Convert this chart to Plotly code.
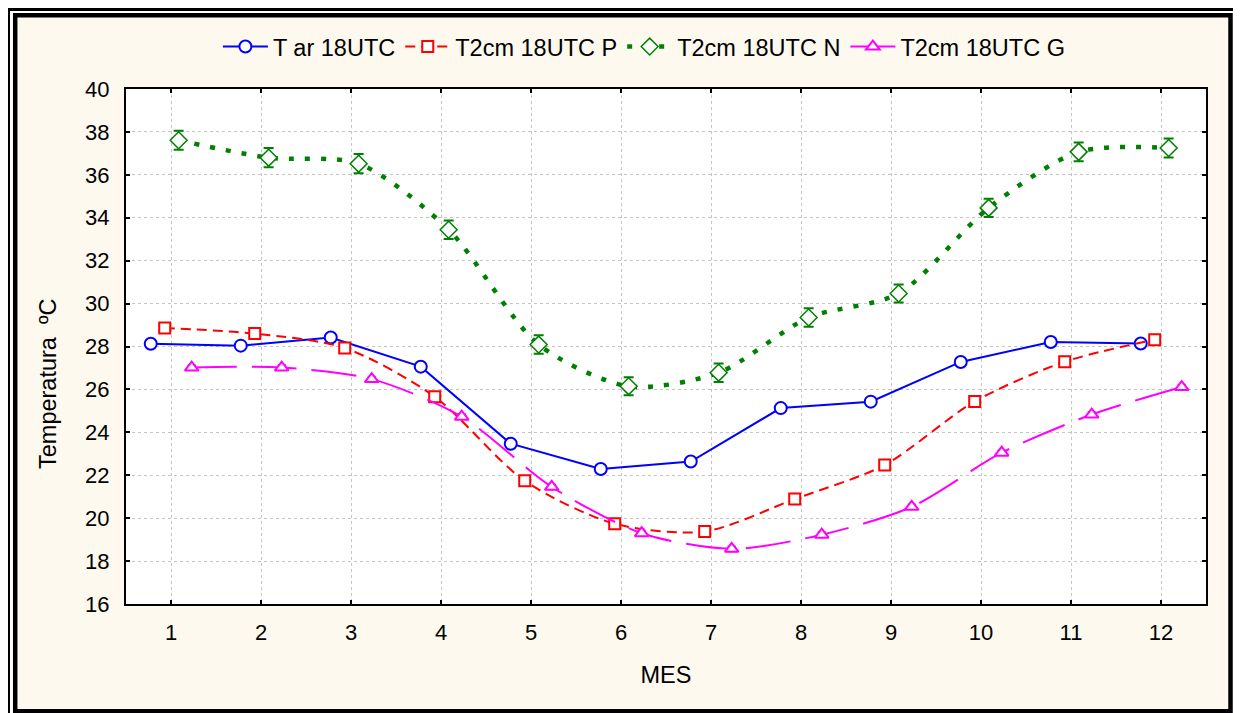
import numpy as np
import plotly.graph_objects as go

# ---------------- data ----------------
months = list(range(1, 13))
tick_labels = [str(m) for m in months]

t_ar = [28.13, 28.04, 28.42, 27.06, 23.47, 22.29, 22.64, 25.13, 25.43, 27.28, 28.21, 28.14]
t_ar_err = [0.15] * 12

t2cm_p = [28.86, 28.60, 27.93, 25.66, 21.74, 19.74, 19.38, 20.89, 22.48, 25.44, 27.29, 28.32]
t2cm_p_err = [0.12] * 12

t2cm_n = [37.61, 36.80, 36.52, 33.44, 28.09, 26.15, 26.78, 29.35, 30.47, 34.46, 37.07, 37.25]
t2cm_n_err = [0.44, 0.45, 0.45, 0.43, 0.43, 0.42, 0.43, 0.43, 0.42, 0.43, 0.44, 0.44]

t2cm_g = [27.02, 27.02, 26.48, 24.73, 21.46, 19.30, 18.57, 19.23, 20.53, 23.05, 24.83, 26.11]
t2cm_g_err = [0.12] * 12

names = ["T ar 18UTC", "T2cm 18UTC P", "T2cm 18UTC N", "T2cm 18UTC G"]
y_title = "Temperatura\u00a0 ºC"
x_title = "MES"

# ---------------- style ----------------
FONT = "Arial, Liberation Sans, sans-serif"
CREAM = "#FDF9EE"
BODY = 8                      # browser default body margin
W, H = 1241 - BODY, 713 - BODY
# screen-space plot area: x 126..1206, y 89..604
L, T = 126 - BODY, 89 - BODY
R, B = W - (1206 - BODY), H - (604 - BODY)
PW, PH = W - L - R, H - T - B

# horizontal offsets of each series around the month position (style)
off = {"T": -0.225, "P": -0.07, "N": 0.085, "G": 0.23}
mx = np.array(months, dtype=float)

fig = go.Figure()

fig.add_trace(go.Scatter(
    x=mx + off["T"], y=t_ar, name=names[0], mode="lines+markers",
    line=dict(color="#0000FF", width=2),
    marker=dict(symbol="circle", size=12, color="white", line=dict(color="#0000FF", width=2)),
    error_y=dict(type="data", array=t_ar_err, color="#0000FF", thickness=2, width=5),
))
fig.add_trace(go.Scatter(
    x=mx + off["P"], y=t2cm_p, name=names[1], mode="lines+markers",
    line=dict(color="#FF0000", width=2, dash="10px,6px", shape="spline", smoothing=0.8),
    marker=dict(symbol="square", size=11, color="white", line=dict(color="#FF0000", width=2)),
    error_y=dict(type="data", array=t2cm_p_err, color="#FF0000", thickness=1.5, width=4),
))
fig.add_trace(go.Scatter(
    x=mx + off["N"], y=t2cm_n, name=names[2], mode="lines+markers",
    line=dict(color="#008000", width=4.5, dash="5px,11px", shape="spline", smoothing=0.8),
    marker=dict(symbol="diamond", size=13, color="white", line=dict(color="#008000", width=1.5)),
    error_y=dict(type="data", array=t2cm_n_err, color="#008000", thickness=2, width=5),
))
fig.add_trace(go.Scatter(
    x=mx + off["G"], y=t2cm_g, name=names[3], mode="lines+markers",
    line=dict(color="#FF00FF", width=2, dash="45px,15px", shape="spline", smoothing=0.8),
    marker=dict(symbol="triangle-up", size=12, color="white", line=dict(color="#FF00FF", width=2)),
    error_y=dict(type="data", array=t2cm_g_err, color="#FF00FF", thickness=1.5, width=4),
))

# convert screen pixel to paper coordinates
def px(xs):
    return (xs - BODY - L) / PW

def py(ys):
    return (H - B - (ys - BODY)) / PH

shapes = [
    dict(type="rect", xref="paper", yref="paper", layer="below",
         x0=px(17), x1=px(1228), y0=py(709), y1=py(17),
         fillcolor=CREAM, line=dict(width=0)),
    dict(type="rect", xref="paper", yref="paper", layer="below",
         x0=0, x1=1, y0=0, y1=1, fillcolor="white", line=dict(width=0)),
    dict(type="rect", xref="paper", yref="paper", layer="below",
         x0=px(15.2), x1=px(1230.5), y0=py(711.2), y1=py(15.2),
         fillcolor="rgba(0,0,0,0)", line=dict(color="black", width=4.5)),
    dict(type="rect", xref="paper", yref="paper", layer="below",
         x0=px(7.5), x1=px(1238.2), y0=py(717), y1=py(8.5),
         fillcolor="rgba(0,0,0,0)", line=dict(color="black", width=5)),
]

axis_common = dict(
    showline=True, linecolor="black", linewidth=2, mirror="ticks",
    ticks="inside", ticklen=4, tickwidth=2, tickcolor="black",
    showgrid=True, gridcolor="#C4C4C4", gridwidth=1, griddash="dot",
    zeroline=False, tickfont=dict(family=FONT, size=22, color="black"),
)

fig.update_layout(
    width=W, height=H,
    margin=dict(l=L, r=R, t=T, b=B, autoexpand=False),
    paper_bgcolor="white", plot_bgcolor="white",
    font=dict(family=FONT, size=22, color="black"),
    shapes=shapes,
    annotations=[dict(text=y_title, xref="paper", yref="paper", x=px(48), y=py(384),
                      xanchor="center", yanchor="middle", textangle=-90, showarrow=False,
                      font=dict(family=FONT, size=23.5, color="black"))],
    showlegend=True,
    legend=dict(orientation="h", x=0.48, xanchor="center", y=1.082, yanchor="middle",
                font=dict(family=FONT, size=23.5, color="black"),
                bgcolor="rgba(0,0,0,0)", itemwidth=45, tracegroupgap=0),
    xaxis=dict(range=[0.5, 12.5], tickmode="array", tickvals=months, ticktext=tick_labels,
               title=dict(text=x_title, font=dict(family=FONT, size=23.5), standoff=22),
               ticklabelstandoff=8, **axis_common),
    yaxis=dict(range=[16, 40], tickmode="linear", tick0=16, dtick=2,
               ticklabelstandoff=10, **axis_common),
)

fig.write_html("out.html")
